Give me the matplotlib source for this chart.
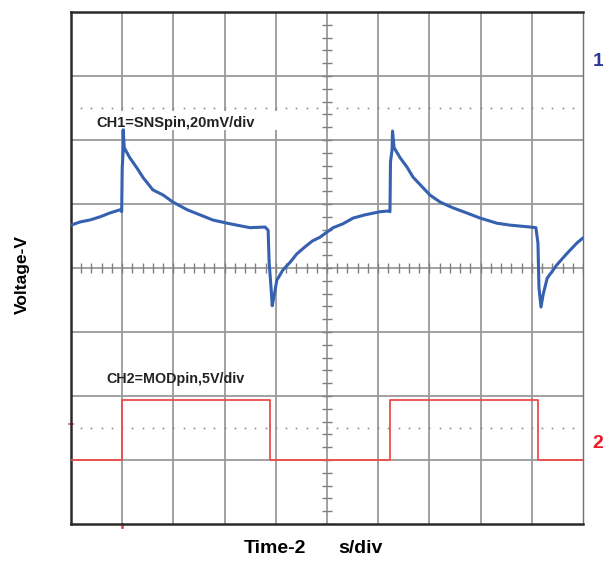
import numpy as np
import matplotlib.pyplot as plt
import matplotlib as mpl
from matplotlib.patches import Rectangle

mpl.rcParams['font.family'] = ['Liberation Sans', 'DejaVu Sans']

# screen units: time in divisions (2 us/div), voltage in divisions
ch1_t = [0.00, 0.18, 0.37, 0.57, 0.76, 0.96, 0.99, 1.00, 1.02, 1.02, 1.04, 1.15,
         1.29, 1.41, 1.60, 1.80, 1.99, 2.27, 2.52, 2.77, 3.05, 3.30, 3.50, 3.79,
         3.85, 3.87, 3.91, 3.93, 3.97, 4.02, 4.14, 4.28, 4.41, 4.57, 4.71, 4.86,
         5.12, 5.31, 5.51, 5.74, 6.04, 6.19, 6.23, 6.24, 6.27, 6.28, 6.31, 6.43,
         6.56, 6.68, 6.88, 7.01, 7.21, 7.46, 7.73, 7.99, 8.32, 8.57, 8.97, 9.08,
         9.12, 9.14, 9.18, 9.22, 9.30, 9.40, 9.49, 9.69, 9.88, 10.00]
ch1_v = [0.67, 0.72, 0.75, 0.80, 0.86, 0.91, 0.88, 1.56, 1.84, 2.16, 1.88, 1.72,
         1.56, 1.41, 1.22, 1.14, 1.03, 0.91, 0.83, 0.75, 0.70, 0.66, 0.63, 0.64,
         0.59, 0.09, -0.34, -0.59, -0.42, -0.19, -0.03, 0.09, 0.22, 0.33, 0.42, 0.48,
         0.63, 0.69, 0.78, 0.83, 0.88, 0.89, 0.88, 1.66, 1.84, 2.14, 1.88, 1.72,
         1.58, 1.42, 1.25, 1.14, 1.03, 0.94, 0.86, 0.78, 0.70, 0.67, 0.64, 0.63,
         0.39, -0.31, -0.61, -0.42, -0.16, -0.05, 0.05, 0.23, 0.39, 0.47]

ch2_t = [0.00, 1.00, 1.00, 3.88, 3.88, 6.24, 6.24, 9.12, 9.12, 10.00]
ch2_v = [-3.00, -3.00, -2.06, -2.06, -3.00, -3.00, -2.06, -2.06, -3.00, -3.00]

ch1_label = 'CH1=SNSpin,20mV/div'
ch2_label = 'CH2=MODpin,5V/div'

fig = plt.figure(figsize=(6.03, 5.65), dpi=100)
ax = fig.add_axes([71/603, 41/565, 512/603, 512/565])
ax.set_xlim(0, 10)
ax.set_ylim(-4, 4)
ax.set_xticks([])
ax.set_yticks([])

grid_c = '#9a9a9a'
for k in range(1, 10):
    ax.axvline(k, color=grid_c, lw=1.3, zorder=1)
for k in range(-3, 4):
    ax.axhline(k, color=grid_c, lw=1.3, zorder=1)

# minor ticks on the centre cross
yt = np.arange(-4, 4.01, 0.2)
ax.hlines(yt, 5 - 0.1, 5 + 0.1, color='#808080', lw=1.0, zorder=1)
xt = np.arange(0, 10.01, 0.2)
ax.vlines(xt, -0.08, 0.08, color='#808080', lw=1.0, zorder=1)

# dotted reference levels
xd = np.arange(0.2, 10, 0.2)
for yl in (2.5, -2.5):
    ax.plot(xd, np.full_like(xd, yl), ls='none', marker='s', ms=1.2,
            color='#8a8a8a', mec='none', zorder=1)

for side in ('left', 'top', 'bottom'):
    ax.spines[side].set_color('#2a2a2a')
    ax.spines[side].set_linewidth(1.8)
ax.spines['right'].set_color('#707070')
ax.spines['right'].set_linewidth(1.0)

ax.add_patch(Rectangle((0.18, 2.16), 4.0, 0.29, facecolor='white',
                       edgecolor='none', zorder=2))
ax.text(0.49, 2.21, ch1_label, fontsize=10.5, fontweight='bold',
        color='#222222', va='baseline', ha='left', zorder=3)
ax.text(0.70, -1.79, ch2_label, fontsize=10.3, fontweight='bold',
        color='#222222', va='baseline', ha='left', zorder=3)

ax.plot(ch1_t, ch1_v, color='#3561b0', lw=2.2, zorder=4)
ax.plot(ch2_t, ch2_v, color='#ef4a4a', lw=1.3, zorder=4)

# trigger markers
ax.plot([-0.03, 0.03], [-2.43, -2.43], color='#ef4a4a', lw=1.2, clip_on=False)
ax.plot([1.0, 1.0], [-4.0, -4.05], color='#ef4a4a', lw=2.0, clip_on=False)

fig.text(598/603, 1 - 61/565, '1', color='#2b3990', fontsize=14,
         fontweight='bold', ha='center', va='center')
fig.text(598/603, 1 - 444/565, '2', color='#ed1c24', fontsize=14,
         fontweight='bold', ha='center', va='center')

fig.text(22/603, 1 - 275/565, 'Voltage-V', rotation=90, fontsize=12.5,
         fontweight='bold', ha='center', va='center')
fig.text(306/603, 1 - 553/565, 'Time-2', fontsize=14, fontweight='bold',
         ha='right', va='baseline')
fig.text(338/603, 1 - 553/565, 's/div', fontsize=14, fontweight='bold',
         ha='left', va='baseline')

plt.savefig('out.png', dpi=100)
